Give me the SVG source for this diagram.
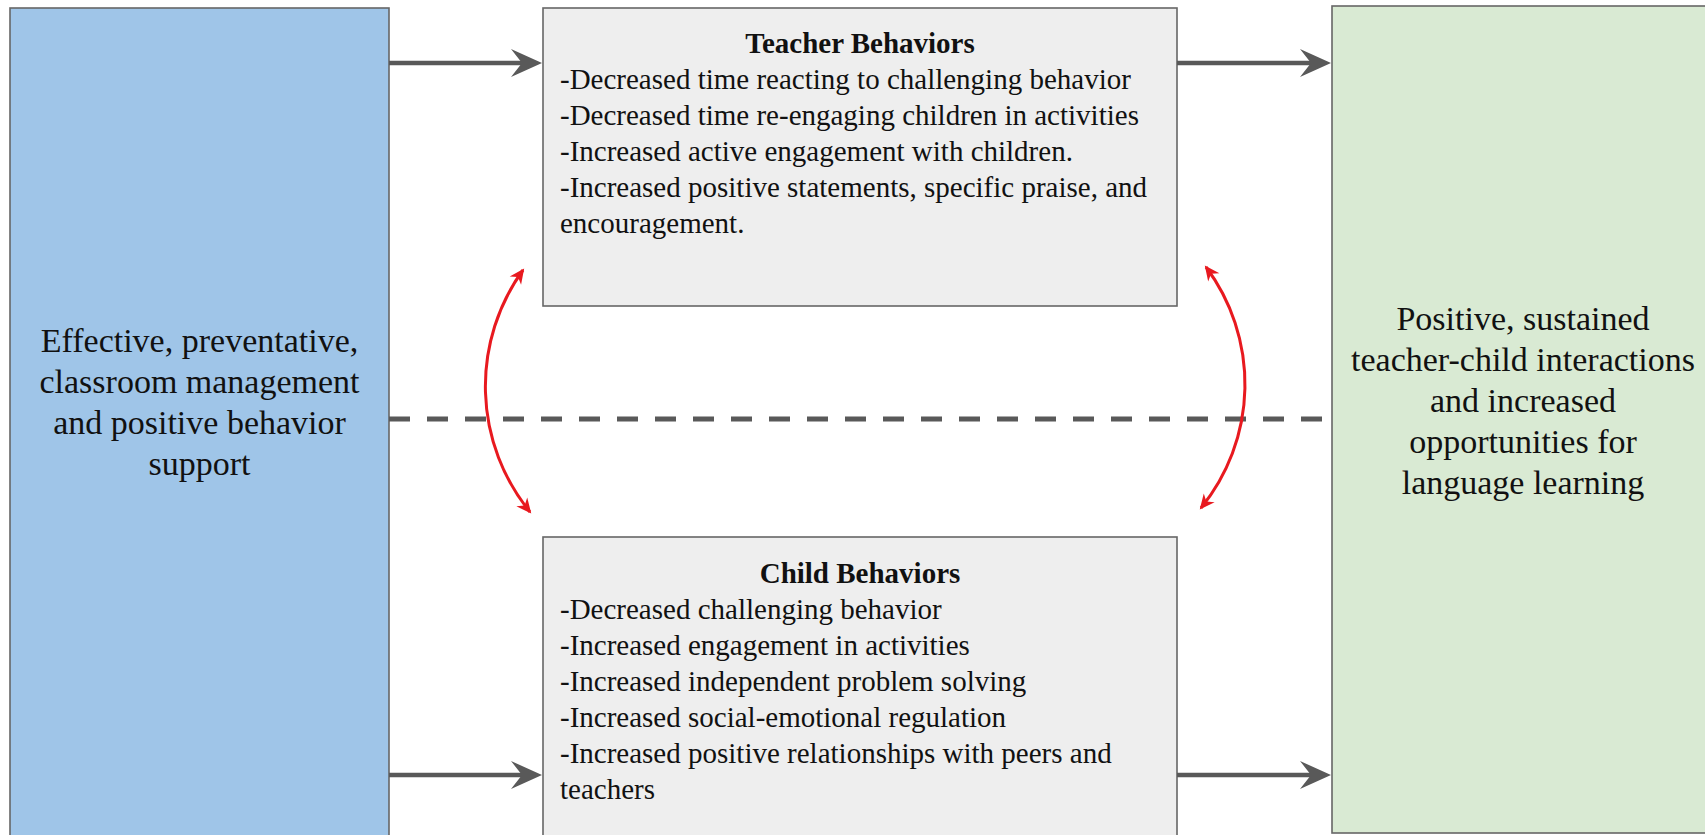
<svg xmlns="http://www.w3.org/2000/svg" width="1705" height="835" viewBox="0 0 1705 835">
  <style>
    .box { stroke: #666666; stroke-width: 1.6; }
    .lbl { font-family: "Liberation Serif", "Times New Roman", serif; fill: #111111; }
    .big { font-size: 34px; text-anchor: middle; }
    .list { font-size: 29px; }
    .title { font-size: 29px; font-weight: bold; text-anchor: middle; }
    .flow { stroke: #595959; stroke-width: 4.5; fill: none; marker-end: url(#grayHead); }
    .split { stroke: #595959; stroke-width: 5; fill: none; stroke-dasharray: 21 17; }
    .loop { stroke: #e8191f; stroke-width: 3; fill: none; marker-start: url(#redHead); marker-end: url(#redHead); }
  </style>
  <defs>
    <marker id="grayHead" markerUnits="userSpaceOnUse" markerWidth="32" markerHeight="28" refX="11" refY="14" orient="auto" overflow="visible">
      <path d="M0,0 L31,14 L0,28 L11,14 Z" fill="#595959"/>
    </marker>
    <marker id="redHead" markerUnits="userSpaceOnUse" markerWidth="16" markerHeight="14" refX="13" refY="7" orient="auto-start-reverse" overflow="visible">
      <path d="M0,0 L15,7 L0,14 L4.5,7 Z" fill="#e8191f"/>
    </marker>
  </defs>

  <rect x="0" y="0" width="1705" height="835" fill="#ffffff"/>

  <!-- input: classroom practices -->
  <g id="practices">
    <rect class="box" x="10" y="8" width="379" height="840" fill="#9fc5e8"/>
    <text class="lbl big" x="199.5" y="352">Effective, preventative,</text>
    <text class="lbl big" x="199.5" y="393">classroom management</text>
    <text class="lbl big" x="199.5" y="434">and positive behavior</text>
    <text class="lbl big" x="199.5" y="475">support</text>
  </g>

  <!-- teacher behaviors -->
  <g id="teacher">
    <rect class="box" x="543" y="8" width="634" height="298" fill="#eeeeee"/>
    <text class="lbl title" x="860" y="53">Teacher Behaviors</text>
    <text class="lbl list" x="560" y="89">-Decreased time reacting to challenging behavior</text>
    <text class="lbl list" x="560" y="125">-Decreased time re-engaging children in activities</text>
    <text class="lbl list" x="560" y="161">-Increased active engagement with children.</text>
    <text class="lbl list" x="560" y="197">-Increased positive statements, specific praise, and</text>
    <text class="lbl list" x="560" y="233">encouragement.</text>
  </g>

  <!-- child behaviors -->
  <g id="child">
    <rect class="box" x="543" y="537" width="634" height="320" fill="#eeeeee"/>
    <text class="lbl title" x="860" y="583">Child Behaviors</text>
    <text class="lbl list" x="560" y="619">-Decreased challenging behavior</text>
    <text class="lbl list" x="560" y="655">-Increased engagement in activities</text>
    <text class="lbl list" x="560" y="691">-Increased independent problem solving</text>
    <text class="lbl list" x="560" y="727">-Increased social-emotional regulation</text>
    <text class="lbl list" x="560" y="763">-Increased positive relationships with peers and</text>
    <text class="lbl list" x="560" y="799">teachers</text>
  </g>

  <!-- outcome -->
  <g id="outcome">
    <rect class="box" x="1332" y="6" width="400" height="827" fill="#d9ead3"/>
    <text class="lbl big" x="1523" y="330">Positive, sustained</text>
    <text class="lbl big" x="1523" y="371">teacher-child interactions</text>
    <text class="lbl big" x="1523" y="412">and increased</text>
    <text class="lbl big" x="1523" y="453">opportunities for</text>
    <text class="lbl big" x="1523" y="494">language learning</text>
  </g>

  <g id="connectors">
    <path class="flow" d="M389,63 H522"/>
    <path class="flow" d="M1177,63 H1311"/>
    <path class="flow" d="M389,775 H522"/>
    <path class="flow" d="M1177,775 H1311"/>
    <path class="split" d="M389,419 H1332"/>
    <path class="loop" d="M523,270 A199,199 0 0 0 530,512"/>
    <path class="loop" d="M1206,267 A196,196 0 0 1 1201,508"/>
  </g>
</svg>
